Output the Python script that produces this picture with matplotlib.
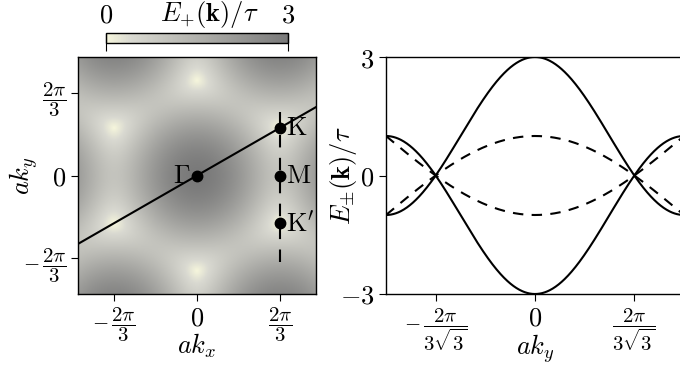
import numpy as np
import matplotlib.pyplot as plt
from matplotlib.colors import LinearSegmentedColormap

plt.rcParams['mathtext.fontset'] = 'cm'
plt.rcParams['font.family'] = 'serif'
plt.rcParams['font.serif'] = ['DejaVu Serif']
plt.rcParams['font.size'] = 19
plt.rcParams['axes.linewidth'] = 1.0

# tight-binding hopping and nearest-neighbour vectors (units of a)
tau = 1.0
delta_x = [1.0, -0.5, -0.5]
delta_y = [0.0, np.sqrt(3) / 2, -np.sqrt(3) / 2]

# high-symmetry points
kpt_names = [r'$\Gamma$', r'$\mathrm{K}$', r'$\mathrm{M}$', r"$\mathrm{K}'$"]
kpt_x = [0.0, 2 * np.pi / 3, 2 * np.pi / 3, 2 * np.pi / 3]
kpt_y = [0.0, 2 * np.pi / (3 * np.sqrt(3)), 0.0, -2 * np.pi / (3 * np.sqrt(3))]

# plotted k ranges
map_lim = 3.0
cut_ky = [-2.2, 1.65]
band_lim = np.pi / np.sqrt(3)

# ticks
map_ticks = [-2 * np.pi / 3, 0.0, 2 * np.pi / 3]
map_ticklabels = [r'$-\,\dfrac{2\pi}{3}$', r'$0$', r'$\dfrac{2\pi}{3}$']
band_xticks = [-2 * np.pi / (3 * np.sqrt(3)), 0.0, 2 * np.pi / (3 * np.sqrt(3))]
band_xticklabels = [r'$-\,\dfrac{2\pi}{3\sqrt{3}}$', r'$0$', r'$\dfrac{2\pi}{3\sqrt{3}}$']
band_yticks = [-3, 0, 3]
band_yticklabels = [r'$-3$', r'$0$', r'$3$']
cbar_ticks = [0, 3]
cbar_ticklabels = [r'$0$', r'$3$']


def energy(kx, ky):
    f = sum(np.exp(1j * (kx * dx + ky * dy)) for dx, dy in zip(delta_x, delta_y))
    return tau * np.abs(f)


def shrink_fractions(labels, size=15):
    # fractions are typeset in display style, so make them a bit smaller
    for lab in labels:
        if 'frac' in lab.get_text():
            lab.set_fontsize(size)


W, H = 680, 365
fig = plt.figure(figsize=(W / 100, H / 100), dpi=100)

# --- carte de E_+(k) ---
ax1 = fig.add_axes([78 / W, 71 / H, 238 / W, 237 / H])
kk = np.linspace(-map_lim, map_lim, 400)
KX, KY = np.meshgrid(kk, kk)
cmap = LinearSegmentedColormap.from_list(
    'beige_gris', [(0.0, '#f6f6dc'), (0.14, '#d9d9d1'), (1.0, '#7a7a7a')])
im = ax1.imshow(energy(KX, KY) / tau, extent=[-map_lim, map_lim, -map_lim, map_lim],
                origin='lower', cmap=cmap, vmin=0, vmax=3, aspect='auto',
                interpolation='bilinear')

# ligne Gamma-K et coupe verticale K-M-K'
slope = kpt_y[1] / kpt_x[1]
ax1.plot(kk, slope * kk, color='k', lw=1.5)
ax1.plot([kpt_x[1], kpt_x[1]], cut_ky, color='k', lw=1.5, dashes=(6, 5))
ax1.plot(kpt_x, kpt_y, 'o', color='k', ms=7.5)
for name, x, y in zip(kpt_names, kpt_x, kpt_y):
    if name == r'$\Gamma$':
        ax1.annotate(name, (x, y), xytext=(-5, 0), textcoords='offset points',
                     ha='right', va='center')
    else:
        ax1.annotate(name, (x, y), xytext=(4, 0), textcoords='offset points',
                     ha='left', va='center')

ax1.set_xlim(-map_lim, map_lim)
ax1.set_ylim(-map_lim, map_lim)
ax1.set_xticks(map_ticks)
shrink_fractions(ax1.set_xticklabels(map_ticklabels))
ax1.set_yticks(map_ticks)
shrink_fractions(ax1.set_yticklabels(map_ticklabels))
ax1.set_xlabel(r'$ak_x$')
ax1.set_ylabel(r'$ak_y$')
ax1.xaxis.set_label_coords(0.5, -0.16)
ax1.yaxis.set_label_coords(-0.16, 0.5)
ax1.tick_params(length=5)

# barre de couleur
cax = fig.add_axes([105.7 / W, 1 - 43 / H, 182 / W, 10 / H])
cb = fig.colorbar(im, cax=cax, orientation='horizontal', ticks=cbar_ticks)
cb.ax.set_xticklabels(cbar_ticklabels)
cax.xaxis.set_ticks_position('top')
cax.tick_params(direction='in', length=13, pad=4)
fig.text(209.5 / W, 1 - 21 / H, r'$E_{+}(\mathbf{k})/\tau$', ha='center', va='baseline')

# --- bandes ---
ax2 = fig.add_axes([386 / W, 71 / H, 298 / W, 237 / H])
ky = np.linspace(-band_lim, band_lim, 600)
e_gk = energy(ky * kpt_x[1] / kpt_y[1], ky)
e_cut = energy(np.full_like(ky, kpt_x[1]), ky)
for s in (1, -1):
    ax2.plot(ky, s * e_gk / tau, color='k', lw=1.5)
    ax2.plot(ky, s * e_cut / tau, color='k', lw=1.5, dashes=(5, 4))

ax2.set_xlim(-band_lim, band_lim)
ax2.set_ylim(-3, 3)
ax2.set_xticks(band_xticks)
shrink_fractions(ax2.set_xticklabels(band_xticklabels))
ax2.set_yticks(band_yticks)
ax2.set_yticklabels(band_yticklabels)
ax2.set_xlabel(r'$ak_y$')
ax2.set_ylabel(r'$E_{\pm}(\mathbf{k})/\tau$')
ax2.xaxis.set_label_coords(0.5, -0.16)
ax2.yaxis.set_label_coords(-0.09, 0.5)
ax2.tick_params(length=5)

fig.savefig('out.png', dpi=100)
